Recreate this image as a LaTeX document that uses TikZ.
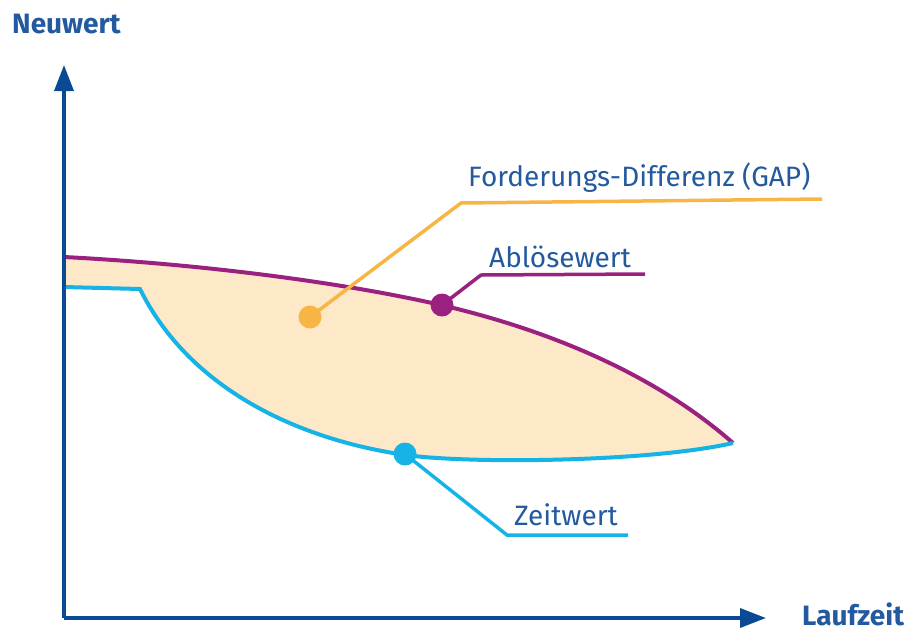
\documentclass[tikz,border=0pt]{standalone}
\usepackage{fontspec}
\setmainfont{Fira Sans}
\usetikzlibrary{positioning, arrows.meta}
\definecolor{axisblue}{HTML}{0A4A94}
\definecolor{textblue}{HTML}{235A9F}
\definecolor{gapfill}{HTML}{FDE8C8}
\definecolor{gaporange}{HTML}{F7B644}
\definecolor{abloese}{HTML}{9B2180}
\definecolor{zeit}{HTML}{16B3E6}
\tikzset{
    axis/.style={
        draw=axisblue,
        line width=3.5pt,
        -{Triangle[length=26pt,width=19pt]}
    },
    curve/.style={line width=4pt},
    leader/.style={line width=3.5pt},
    dot/.style={circle, inner sep=0pt, minimum size=23pt},
    lbl/.style={text=textblue, font=\fontsize{28}{32}\selectfont, inner sep=0pt, anchor=base west},
    axislbl/.style={lbl, font=\fontsize{28}{32}\selectfont\bfseries}
}

\begin{document}
\begin{tikzpicture}[x=1pt,y=-1pt]
	\useasboundingbox (0,0) rectangle (910,633);
	\coordinate (o) at (64,618);
	\coordinate (ytip) at (64,65);
	\coordinate (xtip) at (766,618);
	% area between the two curves
	\fill[gapfill] (64,257) .. controls (200,264) and (340,282) .. (441,305)
	.. controls (540,328) and (650,370) .. (733,443)
	.. controls (650,462) and (470,464) .. (406,455)
	.. controls (300,440) and (190,390) .. (140,289) -- (64,287) -- cycle;
	\draw[curve, abloese] (64,257) .. controls (200,264) and (340,282) .. (441,305)
	.. controls (540,328) and (650,370) .. (733,443);
	\draw[curve, zeit] (64,287) -- (140,289) .. controls (190,390) and (300,440) .. (406,455)
	.. controls (470,464) and (650,462) .. (733,443);
	\draw[axis] (o) -- (ytip);
	\draw[axis] (o) -- (xtip);
	% markers and leaders
	\node[dot, fill=gaporange] at (310,317) (gapdot) {};
	\node[dot, fill=abloese] at (442,305) (abdot) {};
	\node[dot, fill=zeit] at (405,454) (zdot) {};
	\coordinate (gapbend) at (461,203);
	\coordinate (gapend) at (822,199);
	\coordinate (abbend) at (481,275);
	\coordinate (abend) at (645,274);
	\coordinate (zbend) at (507,535);
	\coordinate (zend) at (628,535);
	\draw[leader, gaporange] (gapdot.center) -- (gapbend) -- (gapend);
	\draw[leader, abloese] (abdot.center) -- (abbend) -- (abend);
	\draw[leader, zeit] (zdot.center) -- (zbend) -- (zend);
	% texts
	\node[lbl] at (468,186) (gaptext) {Forderungs-Differenz (GAP)};
	\node[lbl] at (489,267) (abtext) {Ablösewert};
	\node[lbl] at (514,525) (ztext) {Zeitwert};
	\node[axislbl] at (12,33) (ytext) {Neuwert};
	\node[axislbl] at (802,625) (xtext) {Laufzeit};
\end{tikzpicture}
\end{document}
